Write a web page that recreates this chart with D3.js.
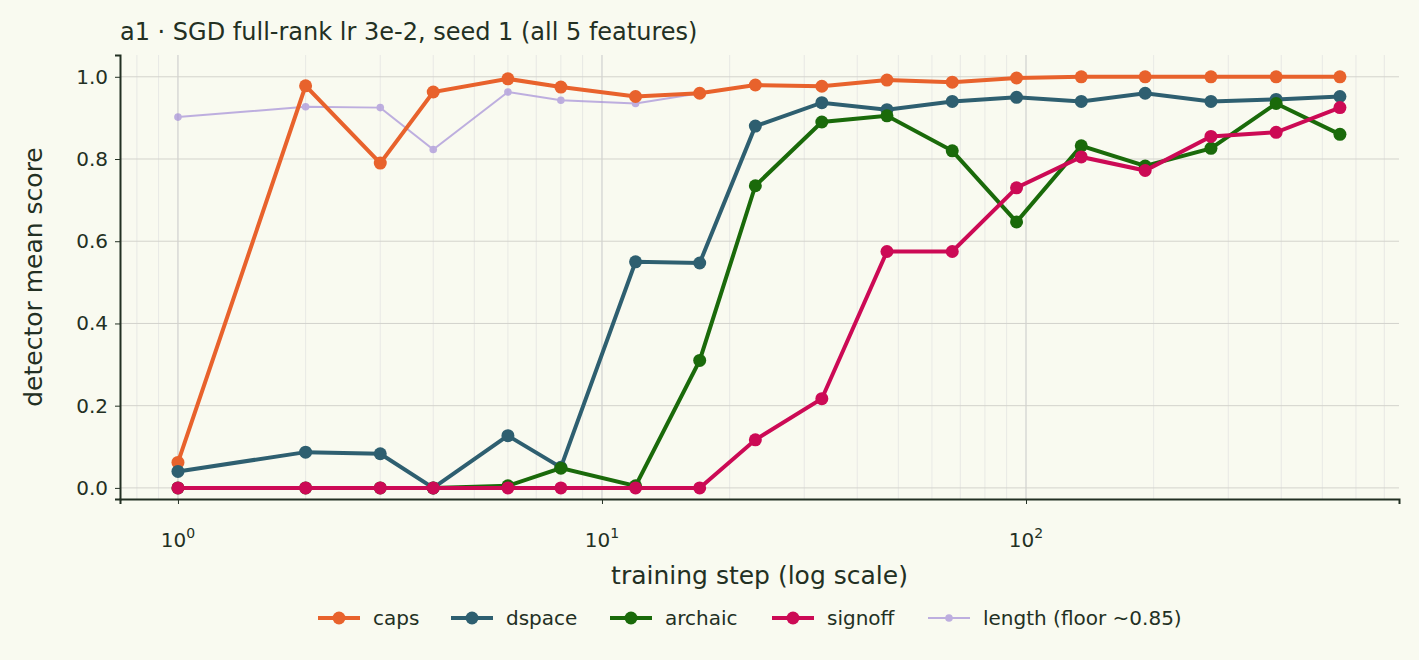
<!DOCTYPE html><html><head><script src="https://cdn.jsdelivr.net/npm/d3@7"></script>
<style>body{margin:0;background:#f9faf0}text{font-family:"DejaVu Sans",sans-serif;fill:#233023}</style></head><body><svg id="c" width="1419" height="660"></svg>
<script>
const steps=[1,2,3,4,6,8,12,17,23,33,47,67,95,135,191,273,389,550];
const caps=[0.062,0.978,0.79,0.963,0.995,0.975,0.952,0.96,0.98,0.977,0.992,0.987,0.997,1.0,1.0,1.0,1.0,1.0];
const dspace=[0.04,0.087,0.083,0.0,0.127,0.05,0.55,0.547,0.88,0.937,0.92,0.94,0.95,0.94,0.96,0.94,0.945,0.952];
const archaic=[0,0,0,0,0.005,0.048,0.005,0.31,0.735,0.89,0.905,0.82,0.647,0.832,0.783,0.826,0.935,0.86];
const signoff=[0,0,0,0,0,0,0,0,0.117,0.217,0.575,0.575,0.73,0.805,0.772,0.855,0.865,0.925];
const lengthSteps=[1,2,3,4,6,8,12,17];
const lengthV=[0.902,0.927,0.925,0.823,0.963,0.943,0.935,0.96];
const yTicks=[0,0.2,0.4,0.6,0.8,1.0];
const series=[
 {name:"caps",x:steps,y:caps,c:"#e8622c",w:4,r:6.5},
 {name:"dspace",x:steps,y:dspace,c:"#2e5f70",w:4,r:6.5},
 {name:"archaic",x:steps,y:archaic,c:"#1a6a0a",w:4,r:6.5},
 {name:"signoff",x:steps,y:signoff,c:"#cc0a55",w:4,r:6.5},
 {name:"length (floor ~0.85)",x:lengthSteps,y:lengthV,c:"#a58fd8",w:2,r:3.8,o:0.7}];
const svg=d3.select("#c");
const L=120,R=1399,T=55,B=499;
const x=d3.scaleLog().domain([0.73,758]).range([L,R]);
const y=d3.scaleLinear().domain([-0.027,1.053]).range([B,T]);
const g=svg.append("g");
const minor=[];for(let d=0.1;d<1000;d*=10)for(let k=2;k<10;k++){const v=d*k;if(v>0.73&&v<758)minor.push(v);}
g.selectAll(".mn").data(minor).join("line").attr("x1",d=>x(d)).attr("x2",d=>x(d)).attr("y1",T).attr("y2",B).attr("stroke","#ddd").attr("stroke-width",0.6);
g.selectAll(".mj").data([1,10,100]).join("line").attr("x1",d=>x(d)).attr("x2",d=>x(d)).attr("y1",T).attr("y2",B).attr("stroke","#ccc").attr("stroke-width",1.1);
g.selectAll(".hy").data(yTicks).join("line").attr("x1",L).attr("x2",R).attr("y1",d=>y(d)).attr("y2",d=>y(d)).attr("stroke","#d3d3cc").attr("stroke-width",1);
const ya=svg.append("g").attr("transform",`translate(${L},0)`).call(d3.axisLeft(y).tickValues(yTicks).tickFormat(d3.format(".1f")).tickSize(5));
const xa=svg.append("g").attr("transform",`translate(0,${B})`).call(d3.axisBottom(x).tickValues([1,10,100]).tickFormat(()=>"").tickSize(5));
[ya,xa].forEach(a=>{a.select(".domain").attr("stroke","#233023").attr("stroke-width",2);a.selectAll(".tick line").attr("stroke","#233023");a.selectAll("text").attr("font-size",20).style("fill","#233023");});
ya.selectAll("text").attr("dx",-4);
[0,1,2].forEach(e=>{const t=svg.append("text").attr("x",x(Math.pow(10,e))).attr("y",B+48).attr("text-anchor","middle").attr("font-size",20);t.append("tspan").text("10");t.append("tspan").attr("dy",-9).attr("font-size",14).text(e);});
svg.append("text").attr("x",(L+R)/2+0).attr("y",584).attr("text-anchor","middle").attr("font-size",25).text("training step (log scale)");
svg.append("text").attr("transform",`translate(42,${(T+B)/2}) rotate(-90)`).attr("text-anchor","middle").attr("font-size",25).text("detector mean score");
svg.append("text").attr("x",L).attr("y",40).attr("font-size",24).text("a1 · SGD full-rank lr 3e-2, seed 1 (all 5 features)");
const line=d3.line().x(d=>x(d[0])).y(d=>y(d[1]));
[series[4],series[0],series[1],series[2],series[3]].forEach(s=>{
 const pts=s.x.map((v,i)=>[v,s.y[i]]);
 const gg=svg.append("g").attr("opacity",s.o||1);
 gg.append("path").attr("d",line(pts)).attr("fill","none").attr("stroke",s.c).attr("stroke-width",s.w);
 gg.selectAll("circle").data(pts).join("circle").attr("cx",d=>x(d[0])).attr("cy",d=>y(d[1])).attr("r",s.r).attr("fill",s.c);
});
const lx=[318,451,610,772,928];
series.forEach((s,i)=>{const gg=svg.append("g").attr("transform",`translate(${lx[i]},618)`).attr("opacity",s.o||1);
 gg.append("line").attr("x1",0).attr("x2",42).attr("stroke",s.c).attr("stroke-width",s.w);
 gg.append("circle").attr("cx",21).attr("r",s.r).attr("fill",s.c);
 svg.append("text").attr("x",lx[i]+55).attr("y",625).attr("font-size",20).text(s.name);});
</script></body></html>
